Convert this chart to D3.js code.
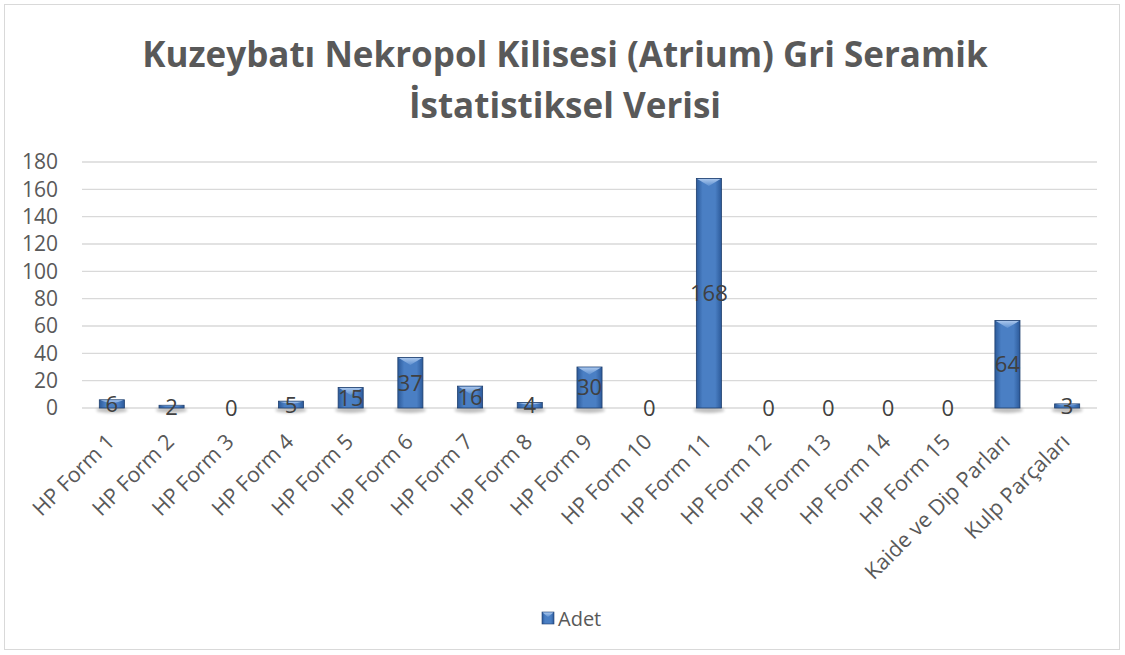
<!DOCTYPE html>
<html><head><meta charset="utf-8">
<script src="https://cdn.jsdelivr.net/npm/d3@7"></script>
<style>body{margin:0;background:#fff}svg{display:block}</style>
</head><body><svg id="c" width="1125" height="655"></svg>
<script>
const categories = ["HP Form 1","HP Form 2","HP Form 3","HP Form 4","HP Form 5","HP Form 6","HP Form 7","HP Form 8","HP Form 9","HP Form 10","HP Form 11","HP Form 12","HP Form 13","HP Form 14","HP Form 15","Kaide ve Dip Parları","Kulp Parçaları"];
const adet = [6,2,0,5,15,37,16,4,30,0,168,0,0,0,0,64,3];
const yTicks = [0,20,40,60,80,100,120,140,160,180];
const titleLines = ["Kuzeybatı Nekropol Kilisesi (Atrium) Gri Seramik","İstatistiksel Verisi"];
const seriesName = "Adet";

const svg = d3.select("#c");
const font = "'Open Sans', 'Liberation Sans', sans-serif";
svg.append("rect").attr("x",4.5).attr("y",4.5).attr("width",1115).attr("height",645)
  .attr("fill","#fff").attr("stroke","#d9d9d9");

const defs = svg.append("defs");
const g1 = defs.append("linearGradient").attr("id","barg").attr("x1","0").attr("x2","1").attr("y1","0").attr("y2","0");
g1.append("stop").attr("offset","0").attr("stop-color","#2c5a9a");
g1.append("stop").attr("offset","0.25").attr("stop-color","#4a7fc4");
g1.append("stop").attr("offset","0.75").attr("stop-color","#4a7fc4");
g1.append("stop").attr("offset","1").attr("stop-color","#2c5a9a");
const g2 = defs.append("linearGradient").attr("id","topg").attr("x1","0").attr("x2","0").attr("y1","0").attr("y2","1");
g2.append("stop").attr("offset","0").attr("stop-color","#a9c6ec");
g2.append("stop").attr("offset","1").attr("stop-color","#5e90d0");
const f = defs.append("filter").attr("id","sh").attr("x","-50%").attr("y","-50%").attr("width","200%").attr("height","200%");
f.append("feGaussianBlur").attr("stdDeviation",1.5);

const x = d3.scaleBand().domain(categories).range([82,1097]).paddingInner(0.58).paddingOuter(0.29);
const y = d3.scaleLinear().domain([0,180]).range([408,162]);

// title
svg.append("g").selectAll("text").data(titleLines).join("text")
  .attr("x",565).attr("y",(d,i)=>67+i*51).attr("text-anchor","middle")
  .attr("font-family",font).attr("font-weight","bold").attr("font-size",35).attr("fill","#595959")
  .text(d=>d);

// grid
svg.append("g").selectAll("line").data(yTicks).join("line")
  .attr("x1",82).attr("x2",1097).attr("y1",d=>y(d)).attr("y2",d=>y(d))
  .attr("stroke","#d9d9d9").attr("stroke-width",1.3);

// y axis labels
const ya = svg.append("g").attr("transform","translate(82,0)")
  .call(d3.axisLeft(y).tickValues(yTicks).tickSize(0).tickPadding(24));
ya.select(".domain").remove();
ya.selectAll("text").attr("font-family",font).attr("font-size",21).attr("fill","#595959");

// bars
const bars = svg.append("g").selectAll("g").data(categories).join("g");
bars.each(function(c,i){
  const v = adet[i]; if(!v) return;
  const g = d3.select(this);
  const bx = x(c), bw = x.bandwidth(), by = y(v), bh = y(0)-y(v);
  g.append("ellipse").attr("cx",bx+bw/2).attr("cy",y(0)+2).attr("rx",bw/2+3).attr("ry",3)
    .attr("fill","#000").attr("opacity",0.25).attr("filter","url(#sh)");
  g.append("rect").attr("x",bx).attr("y",by).attr("width",bw).attr("height",bh)
    .attr("fill","url(#barg)").attr("stroke","#1f3f6e").attr("stroke-width",0.8);
  const t = Math.min(bw*0.3, bh*0.5);
  g.append("path").attr("d",`M${bx+1},${by+0.5}L${bx+bw-1},${by+0.5}L${bx+bw/2},${by+t}Z`)
    .attr("fill","url(#topg)");
});

// data labels
svg.append("g").selectAll("text").data(categories).join("text")
  .attr("x",c=>x(c)+x.bandwidth()/2)
  .attr("y",(c,i)=>(y(adet[i])+y(0))/2)
  .attr("dy","0.36em").attr("text-anchor","middle")
  .attr("font-family",font).attr("font-size",22).attr("fill","#404040")
  .text((c,i)=>adet[i]);

// x axis labels
const xa = svg.append("g").attr("transform","translate(0,408)")
  .call(d3.axisBottom(x).tickSize(0).tickPadding(0));
xa.select(".domain").remove();
xa.selectAll("text").attr("font-family",font).attr("font-size",21.5).attr("fill","#595959")
  .attr("text-anchor","end").attr("dy",0).attr("y",0)
  .attr("transform","translate(4,35) rotate(-45)");

// legend
const lg = svg.append("g").attr("transform","translate(542,612)");
lg.append("rect").attr("width",12).attr("height",12).attr("fill","url(#barg)").attr("stroke","#1f3f6e").attr("stroke-width",0.6);
lg.append("path").attr("d","M0.5,0.5L11.5,0.5L6,5Z").attr("fill","url(#topg)");
lg.append("text").attr("x",16).attr("y",7).attr("dy","0.35em")
  .attr("font-family",font).attr("font-size",20).attr("fill","#595959").text(seriesName);
</script></body></html>
